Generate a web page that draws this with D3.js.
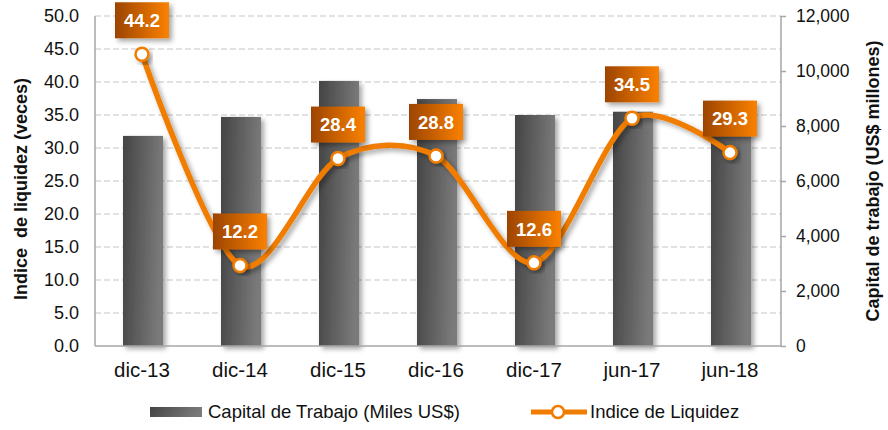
<!DOCTYPE html>
<html><head><meta charset="utf-8">
<script src="https://cdn.jsdelivr.net/npm/d3@7"></script>
<style>body{margin:0;background:#fff}svg{font-family:"Liberation Sans",Arial,sans-serif}</style>
</head><body><svg id="c" width="888" height="430"></svg>
<script>
const categories = ["dic-13","dic-14","dic-15","dic-16","dic-17","jun-17","jun-18"];
const capital = [7640, 8330, 9640, 8980, 8400, 8520, 8900];
const liquidez = [44.2, 12.2, 28.4, 28.8, 12.6, 34.5, 29.3];
const leftTicks = [0,5,10,15,20,25,30,35,40,45,50];
const rightTicks = [0,2000,4000,6000,8000,10000,12000];

const svg = d3.select("#c");
const L = 95, R = 781, T = 16, B = 346;
const x = d3.scaleBand().domain(categories).range([L, R]);
const yL = d3.scaleLinear().domain([0,50]).range([B, T]);
const yR = d3.scaleLinear().domain([0,12000]).range([B, T]);

const defs = svg.append("defs");
const bg = defs.append("linearGradient").attr("id","barG").attr("x1","0").attr("y1","0").attr("x2","1").attr("y2","0.15");
bg.append("stop").attr("offset","0").attr("stop-color","#444");
bg.append("stop").attr("offset","1").attr("stop-color","#7a7a7a");
const og = defs.append("linearGradient").attr("id","lblG").attr("x1","0").attr("y1","0").attr("x2","1").attr("y2","0");
og.append("stop").attr("offset","0").attr("stop-color","#9c4400");
og.append("stop").attr("offset","1").attr("stop-color","#fb8100");
const f = defs.append("filter").attr("id","sh").attr("x","-30%").attr("y","-30%").attr("width","160%").attr("height","160%");
f.append("feDropShadow").attr("dx",3).attr("dy",3).attr("stdDeviation",2.5).attr("flood-color","#000").attr("flood-opacity",0.35);

// gridlines
svg.append("g").selectAll("line").data(leftTicks.filter(d=>d>0)).join("line")
  .attr("x1",L).attr("x2",R).attr("y1",d=>yL(d)).attr("y2",d=>yL(d))
  .attr("stroke","#d9d9d9").attr("stroke-width",1.5).attr("stroke-dasharray","6,3");

// bars
const bw = 40;
svg.append("g").selectAll("rect").data(categories).join("rect")
  .attr("x",(d)=>x(d)+x.bandwidth()/2-bw/2-1).attr("width",bw)
  .attr("y",(d,i)=>yR(capital[i])).attr("height",(d,i)=>B-yR(capital[i]))
  .attr("fill","url(#barG)").attr("filter","url(#sh)");

// axes lines
svg.append("line").attr("x1",L).attr("x2",L).attr("y1",T).attr("y2",B).attr("stroke","#a6a6a6").attr("stroke-width",1.5);
svg.append("line").attr("x1",R).attr("x2",R).attr("y1",T).attr("y2",B).attr("stroke","#a6a6a6").attr("stroke-width",1.5);
svg.append("line").attr("x1",L).attr("x2",R).attr("y1",B).attr("y2",B).attr("stroke","#a6a6a6").attr("stroke-width",1.5);

// left axis labels
const gl = svg.append("g").attr("transform",`translate(${L},0)`).call(d3.axisLeft(yL).tickValues(leftTicks).tickFormat(d3.format(".1f")).tickSize(0).tickPadding(16));
gl.select(".domain").remove();
gl.selectAll("text").attr("font-size",18).attr("fill","#111").attr("font-family","Liberation Sans, Arial");
// right axis
const gr = svg.append("g").attr("transform",`translate(${R},0)`).call(d3.axisRight(yR).tickValues(rightTicks).tickFormat(d3.format(",")).tickSize(5).tickPadding(10));
gr.select(".domain").remove();
gr.selectAll("line").attr("stroke","#a6a6a6").attr("stroke-width",1.5);
gr.selectAll("text").attr("font-size",17.5).attr("fill","#111").attr("font-family","Liberation Sans, Arial");
// x axis
const gx = svg.append("g").attr("transform",`translate(0,${B})`).call(d3.axisBottom(x).tickSize(0).tickPadding(16));
gx.select(".domain").remove();
gx.selectAll("text").attr("font-size",20.5).attr("fill","#111").attr("font-family","Liberation Sans, Arial").attr("dx",-2);

// axis titles
svg.append("text").attr("transform",`translate(27,${(T+B)/2+8}) rotate(-90)`).attr("text-anchor","middle")
  .attr("font-size",18).attr("font-weight","bold").attr("fill","#111").attr("xml:space","preserve").text("Indice  de liquidez (veces)");
svg.append("text").attr("transform",`translate(879,${(T+B)/2}) rotate(-90)`).attr("text-anchor","middle")
  .attr("font-size",18).attr("font-weight","bold").attr("fill","#111").text("Capital de trabajo (US$ millones)");

// line
const cx = (d)=>x(d)+x.bandwidth()/2-2;
const pts = categories.map((c,i)=>[cx(c), yL(liquidez[i])]);
const line = d3.line().curve(d3.curveCardinal.tension(0.1));
svg.append("path").attr("d",line(pts)).attr("fill","none").attr("stroke","#f07c00").attr("stroke-width",5.5).attr("filter","url(#sh)");
svg.append("g").selectAll("circle").data(pts).join("circle")
  .attr("cx",d=>d[0]).attr("cy",d=>d[1]).attr("r",6.5).attr("fill","#fff").attr("stroke","#f07c00").attr("stroke-width",2.5).attr("filter","url(#sh)");

// labels
const lg = svg.append("g").selectAll("g").data(pts).join("g").attr("transform",d=>`translate(${d[0]},${d[1]-34})`);
lg.append("rect").attr("x",-27).attr("y",-18).attr("width",54).attr("height",36).attr("fill","url(#lblG)").attr("filter","url(#sh)");
lg.append("text").attr("text-anchor","middle").attr("dy","0.36em").attr("font-size",18.5).attr("font-weight","bold").attr("fill","#fff")
  .text((d,i)=>liquidez[i].toFixed(1));

// legend
svg.append("rect").attr("x",150).attr("y",407).attr("width",52).attr("height",10).attr("fill","url(#barG)");
svg.append("text").attr("x",208).attr("y",418).attr("font-size",18.5).attr("fill","#111").text("Capital de Trabajo (Miles US$)");
svg.append("line").attr("x1",531).attr("x2",587).attr("y1",412).attr("y2",412).attr("stroke","#f07c00").attr("stroke-width",5);
svg.append("circle").attr("cx",558).attr("cy",412).attr("r",6).attr("fill","#fff").attr("stroke","#f07c00").attr("stroke-width",2.5);
svg.append("text").attr("x",590).attr("y",418).attr("font-size",18.5).attr("fill","#111").text("Indice de Liquidez");
</script></body></html>
